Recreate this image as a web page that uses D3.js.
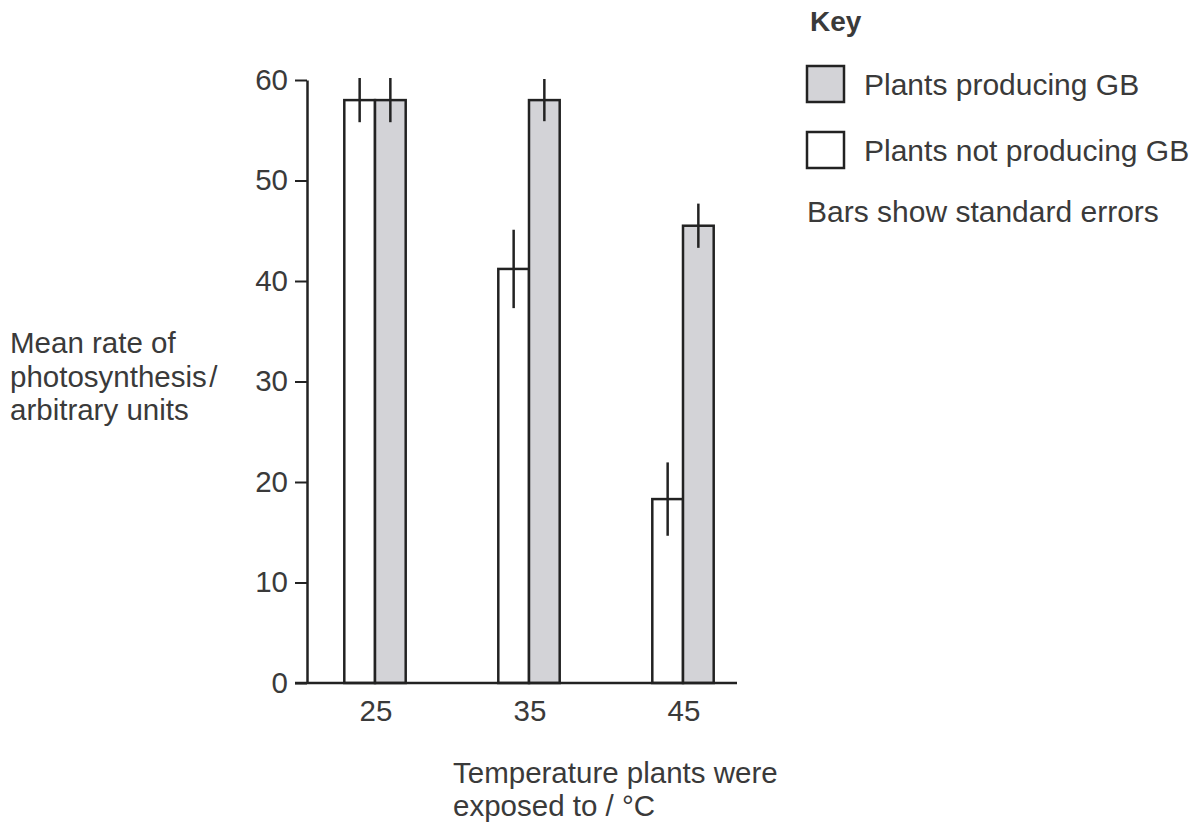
<!DOCTYPE html>
<html>
<head>
<meta charset="utf-8">
<script src="https://cdn.jsdelivr.net/npm/d3@7"></script>
<style>
  body { margin: 0; background: #fff; }
  svg text { font-family: "Liberation Sans", Arial, sans-serif; fill: #3a3a3a; }
</style>
</head>
<body>
<script>
const w = 1204;
const h = 829;

// chart values
const temps = ["25", "35", "45"];
const series = ["Plants not producing GB", "Plants producing GB"];
const notGB = [58, 41.2, 18.3];
const notGBErr = [2.2, 3.9, 3.65];
const withGB = [58, 58, 45.5];
const withGBErr = [2.2, 2.1, 2.2];
const yTicks = [0, 10, 20, 30, 40, 50, 60];
const yLabel = ["Mean rate of", "photosynthesis\u200a/", "arbitrary units"];
const xLabel = ["Temperature plants were", "exposed to / °C"];
const keyTitle = "Key";
const keyNote = "Bars show standard errors";

const barFill = {"Plants not producing GB": "#ffffff", "Plants producing GB": "#d3d3d7"};
const ink = "#222";
const fontSize = 29.5;
const keyFont = 30;

// flatten into one row per bar
let dataset = [];
temps.forEach(function(t, i) {
  dataset.push({temp: t, series: series[0], value: notGB[i], err: notGBErr[i]});
  dataset.push({temp: t, series: series[1], value: withGB[i], err: withGBErr[i]});
});

const xScale = d3.scalePoint()
                 .domain(temps)
                 .range([375, 683]);

const subScale = d3.scaleBand()
                   .domain(series)
                   .range([-30.7, 30.7]);

const yScale = d3.scaleLinear()
                 .domain([0, 60])
                 .range([683, 80]);

const svg = d3.select("body")
              .append("svg")
              .attr("width", w)
              .attr("height", h);

// bars
svg.selectAll("rect.bar")
   .data(dataset)
   .enter()
   .append("rect")
   .attr("class", "bar")
   .attr("x", (d) => xScale(d.temp) + subScale(d.series))
   .attr("y", (d) => yScale(d.value))
   .attr("width", subScale.bandwidth())
   .attr("height", (d) => yScale(0) - yScale(d.value))
   .attr("fill", (d) => barFill[d.series])
   .attr("stroke", ink)
   .attr("stroke-width", 2.5);

// error bars (vertical lines only)
svg.selectAll("line.err")
   .data(dataset)
   .enter()
   .append("line")
   .attr("class", "err")
   .attr("x1", (d) => xScale(d.temp) + subScale(d.series) + subScale.bandwidth() / 2)
   .attr("x2", (d) => xScale(d.temp) + subScale(d.series) + subScale.bandwidth() / 2)
   .attr("y1", (d) => yScale(d.value + d.err))
   .attr("y2", (d) => yScale(d.value - d.err))
   .attr("stroke", ink)
   .attr("stroke-width", 2.5);

// y axis
const yAxis = d3.axisLeft(yScale)
                .tickValues(yTicks)
                .tickSize(12)
                .tickPadding(7)
                .tickSizeOuter(0);

const yG = svg.append("g")
              .attr("id", "y-axis")
              .attr("transform", "translate(307, 0)")
              .call(yAxis);

yG.select(".domain").attr("stroke", ink).attr("stroke-width", 2.5);
yG.selectAll(".tick line").attr("stroke", ink).attr("stroke-width", 2);
yG.selectAll(".tick text")
  .attr("font-size", fontSize)
  .attr("fill", "#3a3a3a")
  .attr("font-family", "Liberation Sans, Arial, sans-serif");

// x axis: baseline with labels, no tick marks
svg.append("line")
   .attr("x1", 295)
   .attr("x2", 737)
   .attr("y1", yScale(0))
   .attr("y2", yScale(0))
   .attr("stroke", ink)
   .attr("stroke-width", 2.5);

svg.selectAll("text.xtick")
   .data(temps)
   .enter()
   .append("text")
   .attr("class", "xtick")
   .attr("x", (d) => xScale(d) + 1)
   .attr("y", 721)
   .attr("text-anchor", "middle")
   .attr("font-size", fontSize)
   .text((d) => d);

// axis titles
svg.selectAll("text.ylabel")
   .data(yLabel)
   .enter()
   .append("text")
   .attr("class", "ylabel")
   .attr("x", 10)
   .attr("y", (d, i) => 353 + i * 33.5)
   .attr("font-size", fontSize)
   .text((d) => d);

svg.selectAll("text.xlabel")
   .data(xLabel)
   .enter()
   .append("text")
   .attr("class", "xlabel")
   .attr("x", 453)
   .attr("y", (d, i) => 783 + i * 32.5)
   .attr("font-size", fontSize)
   .text((d) => d);

// key
svg.append("text")
   .attr("x", 810)
   .attr("y", 31)
   .attr("font-size", 28)
   .attr("font-weight", "bold")
   .text(keyTitle);

const keyOrder = [series[1], series[0]];

const legend = svg.selectAll(".legend")
                  .data(keyOrder)
                  .enter()
                  .append("g")
                  .attr("class", "legend")
                  .attr("transform", (d, i) => "translate(0," + (i * 66) + ")");

legend.append("rect")
      .attr("x", 807)
      .attr("y", 66)
      .attr("width", 37)
      .attr("height", 36)
      .attr("fill", (d) => barFill[d])
      .attr("stroke", ink)
      .attr("stroke-width", 2.5);

legend.append("text")
      .attr("x", 864)
      .attr("y", 95)
      .attr("font-size", keyFont)
      .text((d) => d);

svg.append("text")
   .attr("x", 807)
   .attr("y", 222)
   .attr("font-size", keyFont)
   .text(keyNote);
</script>
</body>
</html>
